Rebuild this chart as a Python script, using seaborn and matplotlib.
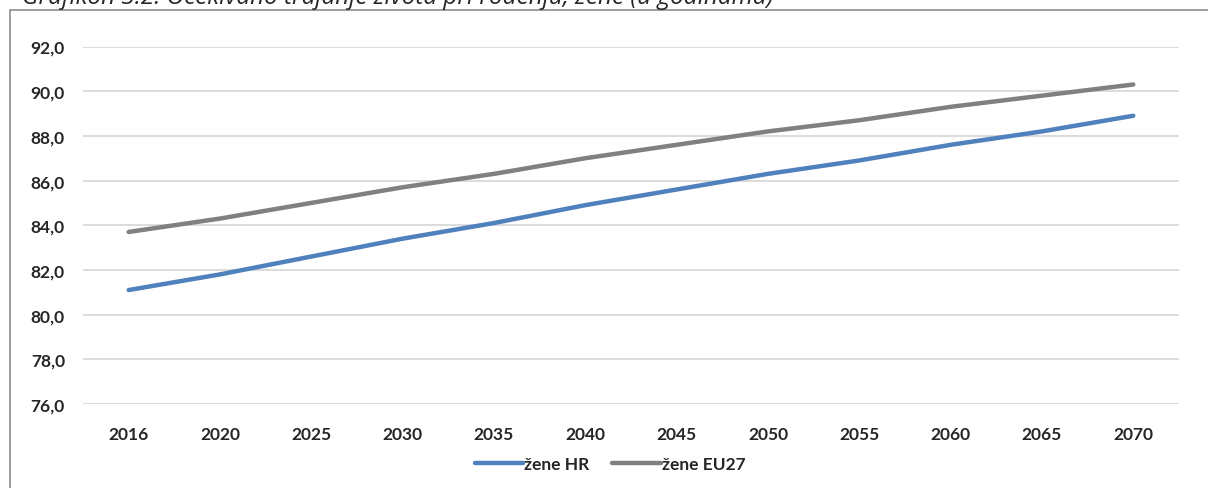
import pandas as pd
import matplotlib.pyplot as plt
import seaborn as sns
from matplotlib.patches import Rectangle

# podaci (ocitano s grafikona)
years = ['2016', '2020', '2025', '2030', '2035', '2040', '2045', '2050', '2055', '2060', '2065', '2070']
zene_hr = [81.1, 81.8, 82.6, 83.4, 84.1, 84.9, 85.6, 86.3, 86.9, 87.6, 88.2, 88.9]
zene_eu27 = [83.7, 84.3, 85.0, 85.7, 86.3, 87.0, 87.6, 88.2, 88.7, 89.3, 89.8, 90.3]
series_names = ['žene HR', 'žene EU27']
yticks = [76, 78, 80, 82, 84, 86, 88, 90, 92]

df = pd.DataFrame({
    'Godina': years * 2,
    'Vrijednost': zene_hr + zene_eu27,
    'Serija': [series_names[0]] * len(years) + [series_names[1]] * len(years),
})

sns.set_style('white')
plt.rcParams['font.family'] = ['Lato', 'DejaVu Sans']

fig = plt.figure(figsize=(12.08, 4.89), dpi=100)
ax = fig.add_axes([83 / 1208, 1 - 405 / 489, (1179 - 83) / 1208, (405 - 47.5) / 489])

sns.lineplot(data=df, x='Godina', y='Vrijednost', hue='Serija',
             palette=['#4f81bd', '#808080'], linewidth=3.2, sort=False,
             solid_capstyle='round', ax=ax)

ax.set_xlim(-0.5, len(years) - 0.5)
ax.set_ylim(76, 92)
ax.set_yticks(yticks)
ax.set_yticklabels([f'{v:.1f}'.replace('.', ',') for v in yticks])
ax.yaxis.grid(True, color='#d9d9d9', linewidth=1.3)
ax.xaxis.grid(False)
ax.set_axisbelow(True)
for s in ax.spines.values():
    s.set_visible(False)
ax.tick_params(axis='both', length=0, labelsize=12.5)
ax.tick_params(axis='x', pad=16)
ax.tick_params(axis='y', pad=13)
for lbl in ax.get_xticklabels() + ax.get_yticklabels():
    lbl.set_fontweight('bold')
ax.set_xlabel('')
ax.set_ylabel('')

ax.legend_.remove()
handles, labels = ax.get_legend_handles_labels()
fig.legend(handles, labels, loc='center', bbox_to_anchor=(610 / 1208, 1 - 465 / 489),
           ncol=2, frameon=False, handlelength=2.8, handletextpad=0.05,
           columnspacing=1.3, prop={'weight': 'bold', 'size': 12.5})

# okvir grafikona
fig.patches.append(Rectangle((10 / 1208, -0.05), 1.1, 1 - 11 / 489 + 0.05,
                             transform=fig.transFigure, fill=False,
                             edgecolor='#8c8c8c', linewidth=1.2))

# naslov (odrezan na vrhu)
fig.text(22 / 1208, 1 - 4 / 489, 'Grafikon 3.2. Očekivano trajanje života pri rođenju, žene (u godinama)',
         fontsize=17.5, fontstyle='italic', va='baseline', ha='left', family=['Open Sans', 'DejaVu Sans'])

fig.savefig('out.png', dpi=100)
